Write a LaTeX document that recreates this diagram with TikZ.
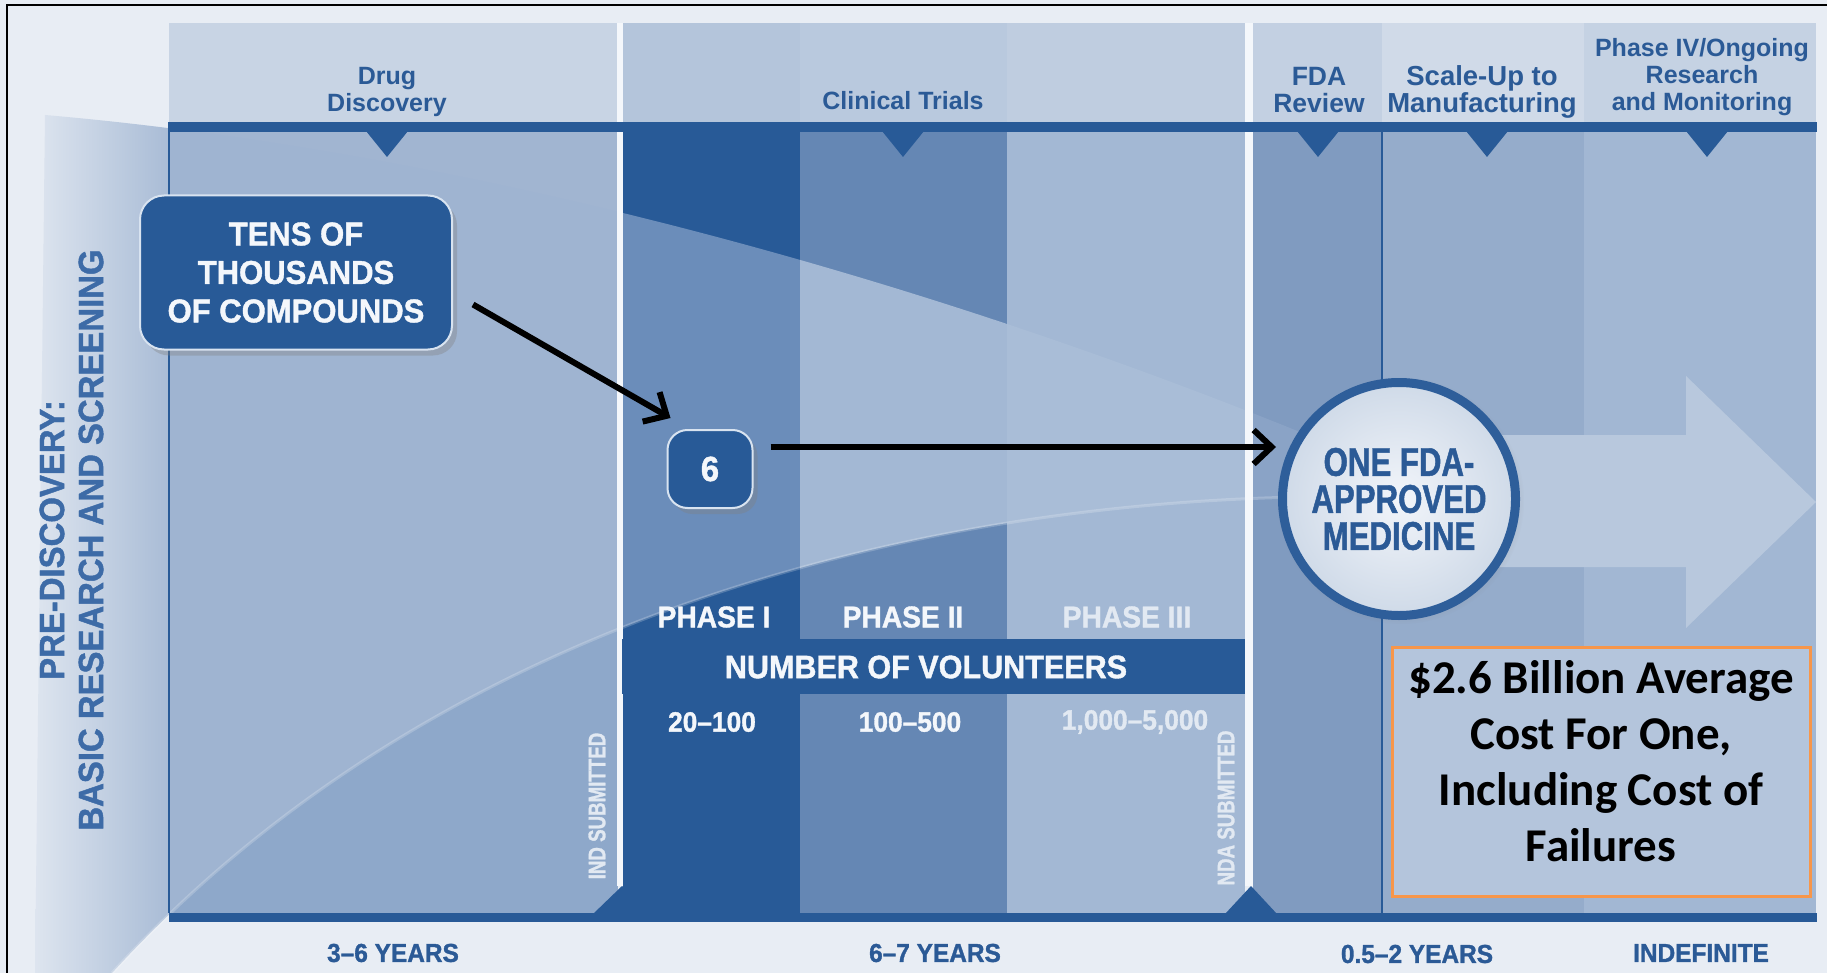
\documentclass[tikz,border=0pt]{standalone}
\usepackage{fontspec}
\setmainfont{Liberation Sans}
\newfontfamily\narrowfont[FakeStretch=0.78,FakeBold=1.2]{Liberation Sans}
\newfontfamily\heavyfont[FakeStretch=0.94,FakeBold=1.2]{Liberation Sans}
\newfontfamily\costfont{Carlito}
\usetikzlibrary{arrows.meta,shadows}

\definecolor{bgcol}{HTML}{E8EDF4}
\definecolor{panelblue}{HTML}{A9BCD6}
\definecolor{dkblue}{HTML}{285A97}
\definecolor{mdblue}{HTML}{6587B4}
\definecolor{ltblue}{HTML}{A3B8D4}
\definecolor{ddcol}{HTML}{A1B5D1}
\definecolor{ddin}{HTML}{9FB4D1}
\definecolor{ddlow}{HTML}{8EA8CA}
\definecolor{p1in}{HTML}{6B8DBA}
\definecolor{p2in}{HTML}{A3B8D4}
\definecolor{p3in}{HTML}{A9BDD7}
\definecolor{fdacol}{HTML}{809BC0}
\definecolor{fdain}{HTML}{8AA3C6}
\definecolor{scalecol}{HTML}{95ACCB}
\definecolor{ph4col}{HTML}{A2B7D3}
\definecolor{hdrdd}{HTML}{C8D4E4}
\definecolor{hdrpa}{HTML}{B4C5DB}
\definecolor{hdrpb}{HTML}{B9C9DE}
\definecolor{hdrpc}{HTML}{BFCDE0}
\definecolor{hdrfda}{HTML}{C3D0E2}
\definecolor{hdrsc}{HTML}{D0DAE8}
\definecolor{hdrpd}{HTML}{C5D2E3}
\definecolor{sepwhite}{HTML}{F4F7FB}
\definecolor{txtblue}{HTML}{2B5A96}
\definecolor{sideblue}{HTML}{3D6BA7}
\definecolor{paletxt}{HTML}{E2E9F2}
\definecolor{arrowcol}{HTML}{B8C8DD}
\definecolor{ringblue}{HTML}{2E5E9A}
\definecolor{discin}{HTML}{F2F5FA}
\definecolor{discout}{HTML}{CFDAE8}
\definecolor{boxedge}{HTML}{D8E3F0}
\definecolor{costorange}{HTML}{F7964A}
\definecolor{costfill}{HTML}{B4C5DC}

% funnel of candidate compounds, and the part under it
\newcommand{\funnelpath}{(45,115) .. controls (450,150) and (900,270) .. (1300,432) -- (1300,497) .. controls (900,505) and (430,625) .. (112,973) -- (35,973) -- cycle}
\newcommand{\lowerpath}{(1300,497) .. controls (900,505) and (430,625) .. (112,973) -- (1300,973) -- cycle}

\begin{document}
\begin{tikzpicture}[x=1pt,y=-1pt,
  hdr/.style={font=\bfseries\fontsize{25}{27}\selectfont,text=txtblue,align=center,inner sep=0},
  yrs/.style={font=\heavyfont\bfseries\fontsize{26}{28}\selectfont,text=txtblue,inner sep=0},
  sidetxt/.style={font=\heavyfont\bfseries\fontsize{35}{37}\selectfont,text=sideblue,rotate=90,inner sep=0},
  phaselbl/.style={font=\heavyfont\bfseries\fontsize{30}{32}\selectfont,text=sepwhite,inner sep=0},
  count/.style={font=\heavyfont\bfseries\fontsize{28}{30}\selectfont,text=sepwhite,inner sep=0},
  subm/.style={font=\narrowfont\bfseries\fontsize{24}{26}\selectfont,text=paletxt,rotate=90,inner sep=0},
  darkbox/.style={draw=boxedge,line width=2,fill=dkblue,text=sepwhite,align=center,
    drop shadow={shadow xshift=5pt,shadow yshift=-6pt,opacity=0.35}},
  blackarrow/.style={line width=6,-{Straight Barb[length=18pt,width=34pt]}}]
\useasboundingbox (0,0) rectangle (1827,973);
\fill[bgcol] (0,0) rectangle (1827,973);

% pre-discovery panel
\begin{scope}
\clip \funnelpath;
\shade[left color=bgcol,right color=panelblue] (8,100) rectangle (169,973);
\end{scope}

% header strips
\fill[hdrdd] (169,23) rectangle (618,122);
\fill[hdrpa] (623,23) rectangle (800,122);
\fill[hdrpb] (800,23) rectangle (1007,122);
\fill[hdrpc] (1007,23) rectangle (1245,122);
\fill[hdrfda] (1253,23) rectangle (1382,122);
\fill[hdrsc] (1382,23) rectangle (1584,122);
\fill[hdrpd] (1584,23) rectangle (1816,122);

% columns
\fill[ddcol] (169,132) rectangle (618,913);
\fill[dkblue] (623,132) rectangle (800,913);
\fill[mdblue] (800,132) rectangle (1007,913);
\fill[ltblue] (1007,132) rectangle (1245,913);
\fill[fdacol] (1253,132) rectangle (1382,913);
\fill[scalecol] (1382,132) rectangle (1584,913);
\fill[ph4col] (1584,132) rectangle (1816,913);

\begin{scope}
\clip \funnelpath;
\fill[ddin] (169,132) rectangle (618,913);
\fill[p1in] (623,132) rectangle (800,913);
\fill[p2in] (800,132) rectangle (1007,913);
\fill[p3in] (1007,132) rectangle (1245,913);
\fill[fdain] (1253,132) rectangle (1382,913);
\end{scope}
\begin{scope}
\clip \lowerpath;
\fill[ddlow] (169,132) rectangle (618,913);
\end{scope}
\draw[white,opacity=0.2,line width=3] (1300,497) .. controls (900,505) and (430,625) .. (112,973);

% separators and frame lines
\fill[sepwhite] (617,23) rectangle (623,886);
\fill[sepwhite] (1245,23) rectangle (1253,886);
\fill[dkblue] (169,122) rectangle (1817,132);
\fill[dkblue] (169,913) rectangle (1817,922);
\draw[dkblue,line width=2] (169,122) -- (169,913);
\draw[dkblue,line width=1.5] (1382,132) -- (1382,913);

% markers
\fill[dkblue] (366,131) -- (408,131) -- (387,157) -- cycle;
\fill[dkblue] (882,131) -- (924,131) -- (903,157) -- cycle;
\fill[dkblue] (1297,131) -- (1339,131) -- (1318,157) -- cycle;
\fill[dkblue] (1466,131) -- (1508,131) -- (1487,157) -- cycle;
\fill[dkblue] (1686,131) -- (1728,131) -- (1707,157) -- cycle;
\fill[dkblue] (593,914) -- (622,886) -- (651,914) -- cycle;
\fill[dkblue] (1225,914) -- (1251,886) -- (1277,914) -- cycle;

% volunteers bar
\fill[dkblue] (622,639) rectangle (1245,694);

% arrow to market
\fill[arrowcol] (1400,435) -- (1686,435) -- (1686,376) -- (1816,502) -- (1686,628) -- (1686,567) -- (1400,567) -- cycle;

% header texts
\node[hdr] (drug) at (387,92) {Drug\\Discovery};
\node[hdr] (clin) at (903,101) {Clinical Trials};
\node[hdr,font=\bfseries\fontsize{26.5}{27}\selectfont] (fda) at (1319,90) {FDA\\Review};
\node[hdr,font=\bfseries\fontsize{27.5}{27}\selectfont] (scale) at (1482,92) {Scale-Up to\\Manufacturing};
\node[hdr] (ongo) at (1702,77) {Phase IV/Ongoing\\Research\\and Monitoring};

% side texts
\node[sidetxt] (pre) at (52,540) {PRE-DISCOVERY:};
\node[sidetxt] (basic) at (91,540) {BASIC RESEARCH AND SCREENING};

% phases
\node[phaselbl] (ph1) at (714,617) {PHASE I};
\node[phaselbl] (ph2) at (903,617) {PHASE II};
\node[phaselbl,text=paletxt] (ph3) at (1127,617) {PHASE III};
\node[phaselbl,font=\heavyfont\bfseries\fontsize{32.5}{34}\selectfont] (vol) at (926,667) {NUMBER OF VOLUNTEERS};
\node[count] (n1) at (712,722) {20–100};
\node[count] (n2) at (910,722) {100–500};
\node[count,text=paletxt] (n3) at (1135,722) {1,000–5,000};
\node[subm] (ind) at (597,806) {IND SUBMITTED};
\node[subm] (nda) at (1226,808) {NDA SUBMITTED};

% bottom durations
\node[yrs] (y1) at (393,953) {3–6 YEARS};
\node[yrs] (y2) at (935,953) {6–7 YEARS};
\node[yrs] (y3) at (1417,954) {0.5–2 YEARS};
\node[yrs] (y4) at (1701,953) {INDEFINITE};

% compounds, candidates, approved medicine
\node[darkbox,rounded corners=24,minimum width=312,minimum height=154,
  font=\heavyfont\bfseries\fontsize{33}{38.5}\selectfont] (tens) at (296,272.5) {TENS OF\\THOUSANDS\\OF COMPOUNDS};
\node[darkbox,rounded corners=20,minimum width=85,minimum height=78,
  font=\heavyfont\bfseries\fontsize{35}{37}\selectfont] (six) at (710,469) {6};
\node[circle,minimum size=233,draw=ringblue,line width=9,inner color=discin,outer color=discout,
  circular drop shadow={shadow scale=1.06,opacity=0.3},
  font=\narrowfont\bfseries\fontsize{40}{37}\selectfont,text=txtblue,align=center] (approved) at (1399,499) {ONE FDA-\\APPROVED\\MEDICINE};

\draw[blackarrow] ([shift={(20,32)}]tens.east) -- ([shift={(4,-11)}]six.north west);
\coordinate (a2s) at ([shift={(17,-22)}]six.east);
\draw[blackarrow,shorten >=2] (a2s) -- (a2s -| approved.west);

% cost box
\node[draw=costorange,line width=3,fill=costfill,minimum width=418,minimum height=249] (costbox) at (1601.5,772) {};
\node[font=\costfont\bfseries\fontsize{47}{56}\selectfont,align=center,inner sep=0] (cost) at (1601,761)
  {\$2.6 Billion Average\\Cost For One,\\Including Cost of\\Failures};

% frame
\draw[black,line width=2] (7,973) -- (7,5) -- (1827,5);
\end{tikzpicture}
\end{document}
